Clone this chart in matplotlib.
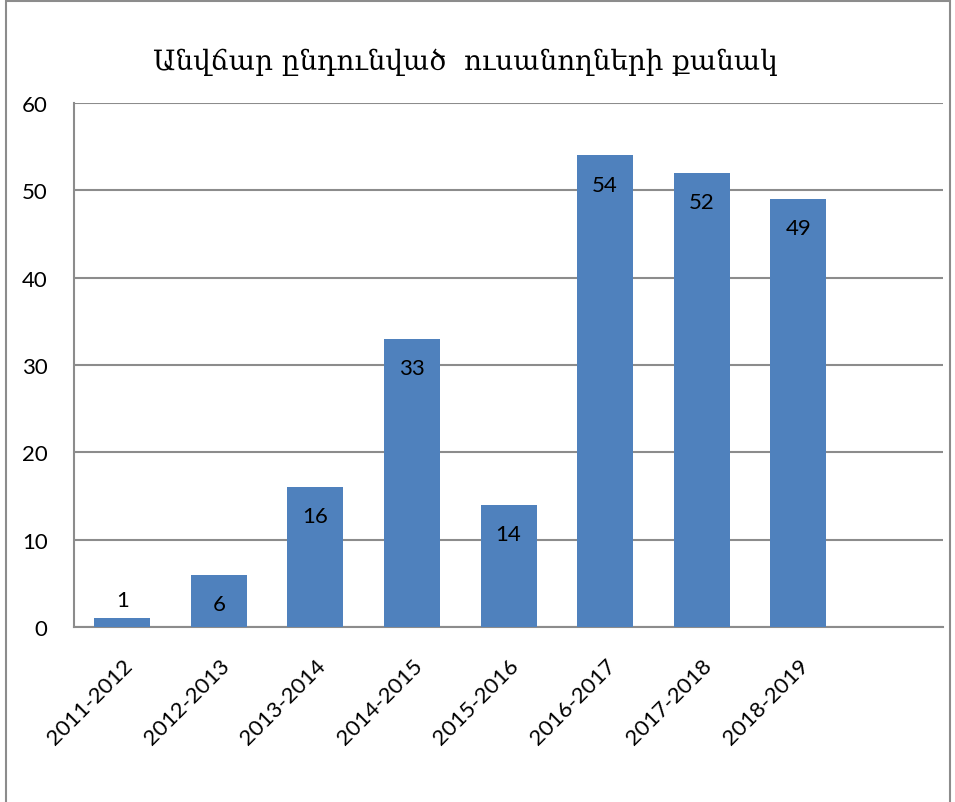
import matplotlib.pyplot as plt
from matplotlib.patches import Rectangle

years = ["2011-2012", "2012-2013", "2013-2014", "2014-2015",
         "2015-2016", "2016-2017", "2017-2018", "2018-2019"]
students = [1, 6, 16, 33, 14, 54, 52, 49]
yticks = [0, 10, 20, 30, 40, 50, 60]
title = "Անվճար ընդունված  ուսանողների քանակ"

plt.rcParams['font.family'] = ['Lato', 'DejaVu Sans']

fig = plt.figure(figsize=(9.55, 8.03), dpi=100)
ax = fig.add_axes([0.0775, 0.218, 0.91, 0.6525])

# outer frame of the chart
fig.patches.append(Rectangle((6 / 955, -0.05), 944 / 955, 1.05 - 2 / 803,
                             transform=fig.transFigure, fill=False,
                             edgecolor="#8c8c8c", linewidth=1.5))

x = list(range(len(years)))
ax.bar(x, students, width=0.58, color="#4F81BD", zorder=3)

for i, v in enumerate(students):
    if v > 3:
        ax.annotate(str(v), (i, v), xytext=(0, -21), textcoords="offset points",
                    ha="center", va="center", fontsize=16, zorder=4)
    else:
        ax.annotate(str(v), (i, v), xytext=(0, 13), textcoords="offset points",
                    ha="center", va="center", fontsize=16, zorder=4)

ax.set_xlim(-0.5, len(years) + 0.5)
ax.set_ylim(0, 60)
ax.set_yticks(yticks)
ax.yaxis.grid(True, color="#8c8c8c", linewidth=1.5, zorder=0)
ax.set_xticks(x)
ax.set_xticklabels(years, rotation=45, ha="right", rotation_mode="anchor",
                   fontsize=16)
ax.tick_params(axis="x", length=0, pad=20)
ax.tick_params(axis="y", length=0, pad=19, labelsize=16)

for side in ["top", "right"]:
    ax.spines[side].set_visible(False)
for side in ["left", "bottom"]:
    ax.spines[side].set_color("#8c8c8c")
    ax.spines[side].set_linewidth(1.5)

fig.text(0.487, 0.922, title, ha="center", va="center", fontsize=20,
         family=["DejaVu Serif", "DejaVu Sans"])

plt.savefig("out.png", dpi=100)
